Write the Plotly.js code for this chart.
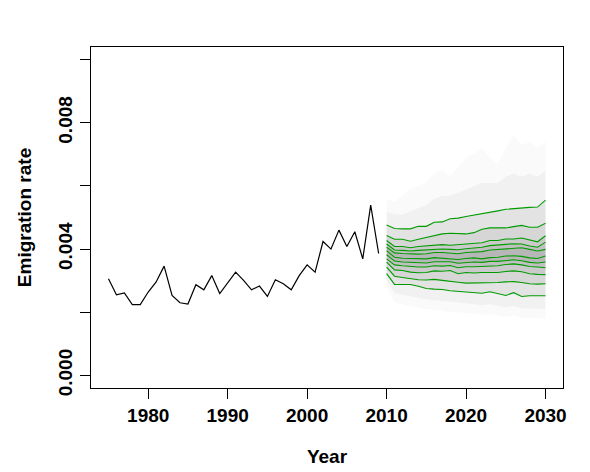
<!DOCTYPE html>
<html>
<head>
<meta charset="utf-8">
<script src="https://cdn.plot.ly/plotly-3.0.1.min.js"></script>
<style>html,body{margin:0;padding:0;background:#fff}#chart{width:590px;height:472px}</style>
</head>
<body>
<div id="chart"></div>
<script>
// Observed emigration rate
const histYears = [1975,1976,1977,1978,1979,1980,1981,1982,1983,1984,1985,1986,1987,1988,1989,1990,1991,1992,1993,1994,1995,1996,1997,1998,1999,2000,2001,2002,2003,2004,2005,2006,2007,2008,2009];
const histRate = [0.00306,0.00255,0.00261,0.00224,0.00224,0.00264,0.00296,0.00346,0.00253,0.00230,0.00226,0.00287,0.00271,0.00316,0.00259,0.00292,0.00327,0.00301,0.00271,0.00283,0.00250,0.00303,0.00290,0.00271,0.00316,0.00350,0.00327,0.00424,0.00400,0.00460,0.00408,0.00455,0.00369,0.00539,0.00386];

// Forecast fan (percentile lines, top to bottom)
const fanYears = [2010,2011,2012,2013,2014,2015,2016,2017,2018,2019,2020,2021,2022,2023,2024,2025,2026,2027,2028,2029,2030];
const outerUpper = [0.00560,0.00550,0.00570,0.00590,0.00600,0.00610,0.00640,0.00650,0.00630,0.00660,0.00690,0.00700,0.00720,0.00690,0.00670,0.00720,0.00760,0.00730,0.00740,0.00720,0.00740];
const innerUpper = [0.00520,0.00510,0.00510,0.00520,0.00530,0.00540,0.00560,0.00570,0.00570,0.00580,0.00590,0.00600,0.00610,0.00610,0.00610,0.00630,0.00640,0.00630,0.00640,0.00630,0.00650];
const p1  = [0.00476,0.00465,0.00464,0.00464,0.00472,0.00472,0.00485,0.00486,0.00496,0.00498,0.00503,0.00507,0.00513,0.00517,0.00521,0.00526,0.00528,0.00532,0.00532,0.00533,0.00555];
const p2  = [0.00443,0.00431,0.00431,0.00425,0.00431,0.00437,0.00444,0.00448,0.00450,0.00448,0.00448,0.00452,0.00463,0.00467,0.00467,0.00467,0.00471,0.00475,0.00469,0.00469,0.00482];
const p3  = [0.00427,0.00408,0.00408,0.00404,0.00408,0.00410,0.00414,0.00414,0.00412,0.00414,0.00414,0.00416,0.00420,0.00427,0.00427,0.00432,0.00432,0.00435,0.00429,0.00423,0.00442];
const p4  = [0.00416,0.00397,0.00396,0.00394,0.00396,0.00397,0.00400,0.00400,0.00399,0.00398,0.00401,0.00403,0.00406,0.00411,0.00412,0.00415,0.00417,0.00416,0.00410,0.00406,0.00422];
const p5  = [0.00406,0.00388,0.00386,0.00384,0.00384,0.00385,0.00389,0.00389,0.00387,0.00385,0.00389,0.00391,0.00392,0.00397,0.00399,0.00402,0.00404,0.00404,0.00399,0.00394,0.00399];
const p6  = [0.00395,0.00374,0.00371,0.00370,0.00370,0.00369,0.00373,0.00371,0.00369,0.00367,0.00370,0.00372,0.00369,0.00373,0.00374,0.00378,0.00379,0.00377,0.00372,0.00370,0.00378];
const p7  = [0.00382,0.00362,0.00359,0.00358,0.00357,0.00356,0.00360,0.00359,0.00360,0.00355,0.00358,0.00359,0.00358,0.00361,0.00361,0.00364,0.00366,0.00363,0.00358,0.00356,0.00359];
const p8  = [0.00369,0.00350,0.00347,0.00344,0.00343,0.00343,0.00347,0.00346,0.00348,0.00341,0.00344,0.00344,0.00345,0.00348,0.00347,0.00351,0.00353,0.00350,0.00345,0.00343,0.00341];
const p9  = [0.00359,0.00334,0.00332,0.00327,0.00325,0.00326,0.00331,0.00330,0.00332,0.00322,0.00326,0.00324,0.00326,0.00326,0.00326,0.00329,0.00331,0.00328,0.00322,0.00320,0.00319];
const p10 = [0.00343,0.00314,0.00310,0.00306,0.00303,0.00302,0.00304,0.00301,0.00299,0.00295,0.00292,0.00292,0.00292,0.00292,0.00294,0.00296,0.00297,0.00294,0.00290,0.00289,0.00290];
const p11 = [0.00322,0.00288,0.00288,0.00288,0.00282,0.00275,0.00273,0.00272,0.00268,0.00266,0.00265,0.00262,0.00260,0.00265,0.00259,0.00253,0.00262,0.00250,0.00252,0.00252,0.00252];
const innerLower = [0.00300,0.00260,0.00255,0.00250,0.00245,0.00240,0.00238,0.00236,0.00232,0.00230,0.00228,0.00225,0.00222,0.00225,0.00220,0.00215,0.00220,0.00212,0.00212,0.00210,0.00210];
const outerLower = [0.00280,0.00230,0.00225,0.00220,0.00215,0.00210,0.00208,0.00205,0.00200,0.00200,0.00198,0.00195,0.00192,0.00195,0.00190,0.00185,0.00190,0.00182,0.00182,0.00180,0.00180];

const xTicks = [1980,1990,2000,2010,2020,2030];
const yTicks = [0,0.002,0.004,0.006,0.008,0.010];
const yTickText = ['0.000','','0.004','','0.008',''];

// shading bands bottom -> top
const bandSeries = [outerLower, innerLower, p11, p10, p9, p8, p7, p6, p5, p4, p3, p2, p1, innerUpper, outerUpper];
const bandColors = [null,'#fafafa','#f1f1f1','#e3e3e3','#d6d6d6','#cacaca','#c0c0c0','#b7b7b7','#b7b7b7','#c0c0c0','#cacaca','#d6d6d6','#e3e3e3','#f1f1f1','#fafafa'];

const traces = [];
bandSeries.forEach((s, i) => {
  traces.push({
    x: fanYears, y: s, type: 'scatter', mode: 'lines',
    line: {width: 0, color: 'rgba(0,0,0,0)'},
    fill: i === 0 ? 'none' : 'tonexty',
    fillcolor: bandColors[i] || 'rgba(0,0,0,0)',
    hoverinfo: 'skip', showlegend: false
  });
});
[p1,p2,p3,p4,p5,p6,p7,p8,p9,p10,p11].forEach(s => {
  traces.push({x: fanYears, y: s, type: 'scatter', mode: 'lines',
    line: {width: 1.1, color: '#009a00'}, showlegend: false});
});
traces.push({x: histYears, y: histRate, type: 'scatter', mode: 'lines',
  line: {width: 1.2, color: '#000000'}, showlegend: false});

const font = {family: 'Liberation Sans, Arial, sans-serif', size: 19, color: '#000', weight: 700};

const layout = {
  width: 590, height: 472,
  margin: {l: 91, r: 27, t: 47, b: 84},
  paper_bgcolor: '#fff', plot_bgcolor: '#fff',
  showlegend: false,
  font: font,
  xaxis: {
    range: [1972.8, 2032.2], tickvals: xTicks, ticktext: xTicks.map(String),
    ticks: 'outside', ticklen: 10, tickwidth: 1, tickcolor: '#000',
    showline: true, linecolor: '#000', linewidth: 1, mirror: true,
    showgrid: false, zeroline: false, tickfont: font,
    title: {text: 'Year', font: font, standoff: 24}
  },
  yaxis: {
    range: [-0.0004, 0.0104], tickvals: yTicks, ticktext: yTickText,
    ticks: 'outside', ticklen: 10, tickwidth: 1, tickcolor: '#000',
    showline: true, linecolor: '#000', linewidth: 1, mirror: true,
    showgrid: false, zeroline: false, tickfont: font, tickangle: -90,
    title: {text: 'Emigration rate', font: font, standoff: 18}
  }
};

Plotly.newPlot('chart', traces, layout, {staticPlot: true, displayModeBar: false});
</script>
</body>
</html>
